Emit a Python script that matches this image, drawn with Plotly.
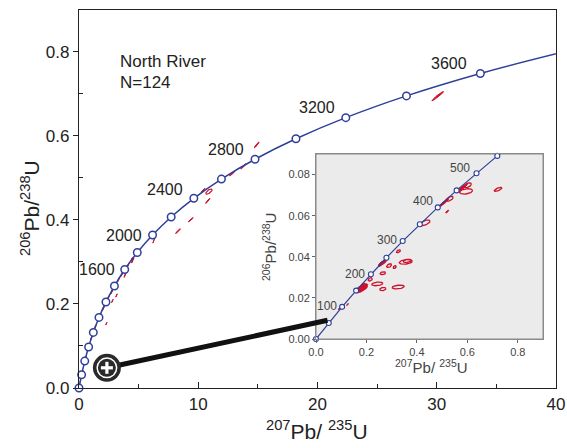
import numpy as np
import plotly.graph_objects as go

# ---------------- data ----------------
# Concordia reference points, main diagram (age in Ma, 207Pb/235U, 206Pb/238U)
MAIN_AGES = [0, 200, 400, 600, 800, 1000, 1200, 1400, 1600, 1800, 2000, 2200,
             2400, 2600, 2800, 3000, 3200, 3400, 3600, 3800]
MAIN_X207 = [0.0, 0.218, 0.483, 0.806, 1.199, 1.677, 2.260, 2.970, 3.835, 4.887,
             6.169, 7.729, 9.630, 11.944, 14.761, 18.193, 22.372, 27.460, 33.656, 41.200]
MAIN_Y206 = [0.0, 0.0315, 0.0640, 0.0975, 0.1321, 0.1678, 0.2046, 0.2425, 0.2817, 0.3221,
             0.3638, 0.4067, 0.4511, 0.4968, 0.5440, 0.5926, 0.6428, 0.6946, 0.7479, 0.8030]
MAIN_LABEL_AGES = [1600, 2000, 2400, 2800, 3200, 3600]

# Concordia reference points, inset (age in Ma)
INSET_AGES = [0, 50, 100, 150, 200, 250, 300, 350, 400, 450, 500, 550, 600]
INSET_X207 = [0.0, 0.0505, 0.1035, 0.1592, 0.2177, 0.2792, 0.3437, 0.4116, 0.4828,
              0.5576, 0.6363, 0.7189, 0.8057]
INSET_Y206 = [0.0, 0.00779, 0.01563, 0.02354, 0.03151, 0.03954, 0.04764, 0.05580,
              0.06402, 0.07230, 0.08065, 0.08907, 0.09754]
INSET_LABEL_AGES = [100, 200, 300, 400, 500]

# Error ellipses, main diagram: centre x, centre y, half-extent x, half-extent y, rho
MAIN_EX = [30.08, 14.90, 13.78, 12.85, 10.40, 10.80, 9.37, 8.30, 6.27, 4.40, 3.85,
           3.15, 2.80, 2.30, 0.25, 0.45, 0.75, 1.05, 1.35, 1.75, 2.05, 2.45, 2.75,
           3.30, 3.60, 4.10, 4.50]
MAIN_EY = [0.694, 0.578, 0.527, 0.510, 0.470, 0.445, 0.400, 0.373, 0.350, 0.305, 0.268,
           0.220, 0.207, 0.153, 0.036, 0.062, 0.094, 0.120, 0.145, 0.171, 0.190, 0.214,
           0.229, 0.257, 0.271, 0.291, 0.303]
MAIN_SX = [0.49, 0.20, 0.22, 0.22, 0.17, 0.18, 0.21, 0.20, 0.08, 0.10, 0.08,
           0.07, 0.07, 0.06, 0.08, 0.09, 0.10, 0.10, 0.10, 0.10, 0.10, 0.10, 0.10,
           0.10, 0.10, 0.10, 0.10]
MAIN_SY = [0.011, 0.0068, 0.0063, 0.0056, 0.0048, 0.0060, 0.0050, 0.0056, 0.0055, 0.0060, 0.0050,
           0.0040, 0.0040, 0.0035, 0.0060, 0.0060, 0.0060, 0.0060, 0.0060, 0.0060, 0.0060, 0.0060,
           0.0060, 0.0060, 0.0060, 0.0060, 0.0060]
MAIN_RHO = [0.97, 0.95, 0.95, 0.95, 0.95, 0.95, 0.95, 0.95, 0.95, 0.95, 0.9,
            0.9, 0.9, 0.9, 0.95, 0.95, 0.95, 0.95, 0.95, 0.95, 0.95, 0.95, 0.95,
            0.95, 0.95, 0.95, 0.95]
# open (unfilled) ellipse in main diagram
MAIN_OPEN_X = [10.90]
MAIN_OPEN_Y = [0.467]
MAIN_OPEN_SX = [0.27]
MAIN_OPEN_SY = [0.0062]
MAIN_OPEN_RHO = [0.7]

# Error ellipses, inset - filled clusters
IN_F_X = [0.172, 0.182, 0.190, 0.178, 0.195, 0.186, 0.168,
          0.260, 0.268, 0.274, 0.256,
          0.520, 0.500, 0.508, 0.516,
          0.572, 0.582, 0.590, 0.092, 0.125]
IN_F_Y = [0.0245, 0.0250, 0.0248, 0.0238, 0.0258, 0.0262, 0.0232,
          0.0368, 0.0374, 0.0380, 0.0362,
          0.0620, 0.0656, 0.0664, 0.0672,
          0.0728, 0.0737, 0.0744, 0.0148, 0.0168]
IN_F_SX = [0.014, 0.016, 0.014, 0.012, 0.010, 0.010, 0.008,
           0.012, 0.012, 0.008, 0.008,
           0.006, 0.010, 0.010, 0.010,
           0.010, 0.012, 0.010, 0.004, 0.004]
IN_F_SY = [0.0012, 0.0014, 0.0013, 0.0011, 0.0011, 0.0010, 0.0008,
           0.0012, 0.0012, 0.0010, 0.0009,
           0.0007, 0.0012, 0.0012, 0.0012,
           0.0012, 0.0013, 0.0012, 0.0005, 0.0005]
IN_F_RHO = [0.6, 0.6, 0.6, 0.5, 0.6, 0.5, 0.5,
            0.7, 0.7, 0.7, 0.7,
            0.8, 0.85, 0.85, 0.85,
            0.85, 0.85, 0.85, 0.8, 0.8]
# Error ellipses, inset - open
IN_O_X = [0.215, 0.243, 0.265, 0.265, 0.326, 0.290, 0.312, 0.356, 0.362, 0.327,
          0.432, 0.530, 0.602, 0.595, 0.722]
IN_O_Y = [0.0290, 0.0268, 0.0243, 0.0320, 0.0253, 0.0357, 0.0350, 0.0375, 0.0380, 0.0427,
          0.0565, 0.0682, 0.0748, 0.0718, 0.0728]
IN_O_SX = [0.008, 0.022, 0.012, 0.011, 0.024, 0.010, 0.006, 0.026, 0.016, 0.008,
           0.020, 0.014, 0.014, 0.026, 0.015]
IN_O_SY = [0.0008, 0.0009, 0.0008, 0.0007, 0.0009, 0.0009, 0.0007, 0.0011, 0.0008, 0.0007,
           0.0014, 0.0012, 0.0012, 0.0013, 0.0010]
IN_O_RHO = [0.4, 0.3, 0.3, 0.3, 0.3, 0.5, 0.4, 0.3, 0.3, 0.5,
            0.6, 0.6, 0.5, 0.3, 0.7]

# Zoom call-out: magnifier position (main axes) and target (main axes)
MAGNIFIER = (2.34, 0.048)
CALLOUT_END = (20.84, 0.161)

BLUE = "#2f3f9a"
RED = "#d0102a"
FONT = "Liberation Sans, Arial, sans-serif"


def ellipses(xs, ys, sxs, sys_, rhos, n=48):
    px, py = [], []
    t = np.linspace(0, 2 * np.pi, n)
    for cx, cy, sx, sy, r in zip(xs, ys, sxs, sys_, rhos):
        ex = cx + sx * np.cos(t)
        ey = cy + sy * (r * np.cos(t) + np.sqrt(1 - r * r) * np.sin(t))
        px += list(ex) + [None]
        py += list(ey) + [None]
    return px, py


fig = go.Figure()

# ---- main diagram ----
mx, my = ellipses(MAIN_EX, MAIN_EY, MAIN_SX, MAIN_SY, MAIN_RHO)
fig.add_trace(go.Scatter(x=mx, y=my, mode="lines", fill="toself", fillcolor=RED,
                         line=dict(color=RED, width=1), xaxis="x", yaxis="y",
                         hoverinfo="skip", showlegend=False))
ox, oy = ellipses(MAIN_OPEN_X, MAIN_OPEN_Y, MAIN_OPEN_SX, MAIN_OPEN_SY, MAIN_OPEN_RHO)
fig.add_trace(go.Scatter(x=ox, y=oy, mode="lines", line=dict(color=RED, width=1.2),
                         xaxis="x", yaxis="y", hoverinfo="skip", showlegend=False))
# inset data also at small scale in main diagram
fx, fy = ellipses(IN_F_X, IN_F_Y, IN_F_SX, IN_F_SY, IN_F_RHO)
fig.add_trace(go.Scatter(x=fx, y=fy, mode="lines", line=dict(color=RED, width=1),
                         xaxis="x", yaxis="y", hoverinfo="skip", showlegend=False))

fig.add_trace(go.Scatter(x=MAIN_X207, y=MAIN_Y206, mode="lines",
                         line=dict(color=BLUE, width=1.5, shape="spline"),
                         xaxis="x", yaxis="y", showlegend=False))
mk = [i for i, v in enumerate(MAIN_X207) if v <= 40]
fig.add_trace(go.Scatter(x=[MAIN_X207[i] for i in mk], y=[MAIN_Y206[i] for i in mk],
                         mode="markers", cliponaxis=False,
                         marker=dict(symbol="circle", size=7.5, color="white",
                                     line=dict(color=BLUE, width=1.5)),
                         xaxis="x", yaxis="y", showlegend=False))

# ---- inset ----
ifx, ify = ellipses(IN_F_X, IN_F_Y, IN_F_SX, IN_F_SY, IN_F_RHO)
fig.add_trace(go.Scatter(x=ifx, y=ify, mode="lines", fill="toself", fillcolor=RED,
                         line=dict(color=RED, width=1), xaxis="x2", yaxis="y2",
                         hoverinfo="skip", showlegend=False))
iox, ioy = ellipses(IN_O_X, IN_O_Y, IN_O_SX, IN_O_SY, IN_O_RHO)
fig.add_trace(go.Scatter(x=iox, y=ioy, mode="lines", line=dict(color=RED, width=1.3),
                         xaxis="x2", yaxis="y2", hoverinfo="skip", showlegend=False))
fig.add_trace(go.Scatter(x=INSET_X207, y=INSET_Y206, mode="lines",
                         line=dict(color=BLUE, width=1.2),
                         xaxis="x2", yaxis="y2", showlegend=False))
ik = [i for i, v in enumerate(INSET_Y206) if v <= 0.09]
fig.add_trace(go.Scatter(x=[INSET_X207[i] for i in ik], y=[INSET_Y206[i] for i in ik],
                         mode="markers", cliponaxis=False,
                         marker=dict(symbol="circle", size=5, color="white",
                                     line=dict(color=BLUE, width=1.1)),
                         xaxis="x2", yaxis="y2", showlegend=False))

annotations = []
main_shifts = {1600: (-8, 0), 2000: (-9, -1), 2400: (-9, 9), 2800: (-9, 10),
               3200: (-9, 10), 3600: (-11, 10)}
for age in MAIN_LABEL_AGES:
    i = MAIN_AGES.index(age)
    dx, dy = main_shifts[age]
    annotations.append(dict(x=MAIN_X207[i], y=MAIN_Y206[i], xref="x", yref="y",
                            text=str(age), showarrow=False, xanchor="right",
                            yanchor="middle", xshift=dx, yshift=dy,
                            font=dict(family=FONT, size=16, color="#222")))
inset_shifts = {100: (-3, 1), 200: (-4, 0), 300: (-4, 1), 400: (-3, 6), 500: (-4, 5)}
for age in INSET_LABEL_AGES:
    i = INSET_AGES.index(age)
    dx, dy = inset_shifts[age]
    annotations.append(dict(x=INSET_X207[i], y=INSET_Y206[i], xref="x2", yref="y2",
                            text=str(age), showarrow=False, xanchor="right",
                            yanchor="middle", xshift=dx, yshift=dy,
                            font=dict(family=FONT, size=12, color="#444")))

annotations += [
    dict(x=118 / 567, y=(448 - 62) / 448, xref="paper", yref="paper", text="North River",
         showarrow=False, xanchor="left", yanchor="middle",
         font=dict(family=FONT, size=17, color="#222")),
    dict(x=118 / 567, y=(448 - 82) / 448, xref="paper", yref="paper", text="N=124",
         showarrow=False, xanchor="left", yanchor="middle",
         font=dict(family=FONT, size=17, color="#222")),
    dict(x=317 / 567, y=(448 - 430) / 448, xref="paper", yref="paper",
         text="<sup>207</sup>Pb/ <sup>235</sup>U", showarrow=False,
         xanchor="center", yanchor="middle", font=dict(family=FONT, size=21, color="#222")),
    dict(x=30 / 567, y=(448 - 208) / 448, xref="paper", yref="paper",
         text="<sup>206</sup>Pb/<sup>238</sup>U", showarrow=False, textangle=-90,
         xanchor="center", yanchor="middle", font=dict(family=FONT, size=21, color="#222")),
    dict(x=431 / 567, y=(448 - 366) / 448, xref="paper", yref="paper",
         text="<sup>207</sup>Pb/ <sup>235</sup>U", showarrow=False,
         xanchor="center", yanchor="middle", font=dict(family=FONT, size=15, color="#444")),
    dict(x=269 / 567, y=(448 - 247) / 448, xref="paper", yref="paper",
         text="<sup>206</sup>Pb/<sup>238</sup>U", showarrow=False, textangle=-90,
         xanchor="center", yanchor="middle", font=dict(family=FONT, size=15, color="#444")),
]

shapes = [
    dict(type="rect", xref="x2 domain", yref="y2 domain", x0=0, x1=1, y0=0, y1=1,
         fillcolor="#ebebeb", line=dict(color="#8a8a8a", width=1), layer="below"),
    dict(type="line", xref="x", yref="y", x0=MAGNIFIER[0], y0=MAGNIFIER[1],
         x1=CALLOUT_END[0], y1=CALLOUT_END[1], line=dict(color="#111", width=5),
         layer="above"),
]
# magnifier icon (pixel-sized circles anchored at MAGNIFIER)
for r, col in [(14, "#2a2a2a"), (10.5, "white"), (9, "#2a2a2a")]:
    shapes.append(dict(type="circle", xref="x", yref="y", xsizemode="pixel",
                       ysizemode="pixel", xanchor=MAGNIFIER[0], yanchor=MAGNIFIER[1],
                       x0=-r, x1=r, y0=-r, y1=r, fillcolor=col, line=dict(width=0),
                       layer="above"))
for (a0, a1, b0, b1) in [(-6, 6, -1.6, 1.6), (-1.6, 1.6, -6, 6)]:
    shapes.append(dict(type="rect", xref="x", yref="y", xsizemode="pixel",
                       ysizemode="pixel", xanchor=MAGNIFIER[0], yanchor=MAGNIFIER[1],
                       x0=a0, x1=a1, y0=b0, y1=b1, fillcolor="white", line=dict(width=0),
                       layer="above"))

tickfont_main = dict(family=FONT, size=17, color="#222")
tickfont_in = dict(family=FONT, size=11, color="#444")

fig.update_layout(
    width=567, height=448, margin=dict(l=0, r=0, t=0, b=0, autoexpand=False),
    paper_bgcolor="white", plot_bgcolor="rgba(0,0,0,0)",
    showlegend=False,
    xaxis=dict(domain=[79 / 567, 556 / 567], range=[0, 40], anchor="y", automargin=False,
               tickmode="array", tickvals=[0, 10, 20, 30, 40], ticks="inside",
               ticklen=6, tickcolor="#222", tickwidth=1,
               minor=dict(tickvals=[5, 15, 25, 35], ticks="inside", ticklen=4,
                          tickcolor="#222"),
               showline=True, linecolor="#222", linewidth=1.3, mirror=True,
               showgrid=False, zeroline=False, tickfont=tickfont_main),
    yaxis=dict(domain=[60 / 448, 438.5 / 448], range=[0, 0.9], anchor="x", automargin=False,
               tickmode="array", tickvals=[0, 0.2, 0.4, 0.6, 0.8],
               ticktext=["0.0", "0.2", "0.4", "0.6", "0.8"],
               ticks="outside", ticklen=5, tickcolor="#222",
               minor=dict(tickvals=[0.1, 0.3, 0.5, 0.7], ticks="inside", ticklen=4,
                          tickcolor="#222"),
               showline=True, linecolor="#222", linewidth=1.3, mirror=True,
               showgrid=False, zeroline=False, tickfont=tickfont_main),
    xaxis2=dict(domain=[316 / 567, 543 / 567], range=[0, 0.9], anchor="y2", automargin=False,
                tickmode="array", tickvals=[0, 0.2, 0.4, 0.6, 0.8],
                ticktext=["0.0", "0.2", "0.4", "0.6", "0.8"],
                ticks="outside", ticklen=3, tickcolor="#666",
                showline=True, linecolor="#8a8a8a", linewidth=1, mirror=True,
                showgrid=False, zeroline=False, tickfont=tickfont_in),
    yaxis2=dict(domain=[109 / 448, 294 / 448], range=[0, 0.09], anchor="x2", automargin=False,
                tickmode="array", tickvals=[0, 0.02, 0.04, 0.06, 0.08],
                ticktext=["0.00", "0.02", "0.04", "0.06", "0.08"],
                ticks="outside", ticklen=3, tickcolor="#666",
                showline=True, linecolor="#8a8a8a", linewidth=1, mirror=True,
                showgrid=False, zeroline=False, tickfont=tickfont_in),
    annotations=annotations,
    shapes=shapes,
)

fig.write_html("out.html")
